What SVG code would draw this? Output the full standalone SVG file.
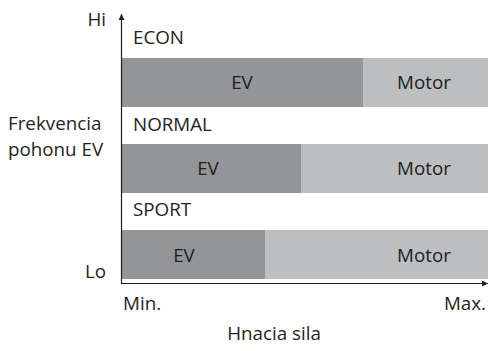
<svg xmlns="http://www.w3.org/2000/svg" width="489" height="351" viewBox="0 0 489 351">
<style>
text{font-family:"Open Sans","Noto Sans",sans-serif;font-size:18.8px;fill:#231f20}
.ev{fill:#939598}
.mo{fill:#bcbec0}
.mid{text-anchor:middle}
.end{text-anchor:end}
.ax{stroke:#231f20;stroke-width:1.2;fill:none}
</style>
<defs>
<marker id="ah" viewBox="0 0 10 10" refX="10" refY="5" markerWidth="8" markerHeight="6" markerUnits="userSpaceOnUse" orient="auto">
<path d="M0,0L10,5L0,10z" fill="#231f20"/>
</marker>
</defs>
<rect width="489" height="351" fill="#fff"/>
<g id="econ">
<text x="133" y="44">ECON</text>
<rect class="ev" x="122" y="58" width="241" height="49"/>
<rect class="mo" x="363" y="58" width="125" height="49"/>
<text class="mid" x="242" y="89">EV</text>
<text class="mid" x="424" y="89">Motor</text>
</g>
<g id="normal">
<text x="133" y="131">NORMAL</text>
<rect class="ev" x="122" y="144" width="179" height="49"/>
<rect class="mo" x="301" y="144" width="187" height="49"/>
<text class="mid" x="208" y="175">EV</text>
<text class="mid" x="424" y="175">Motor</text>
</g>
<g id="sport">
<text x="133" y="216">SPORT</text>
<rect class="ev" x="122" y="230" width="143" height="49"/>
<rect class="mo" x="265" y="230" width="223" height="49"/>
<text class="mid" x="184" y="262">EV</text>
<text class="mid" x="424" y="262">Motor</text>
</g>
<g id="axes">
<line class="ax" x1="121.5" y1="284" x2="121.5" y2="14" marker-end="url(#ah)"/>
<line class="ax" x1="121" y1="283.5" x2="488" y2="283.5" marker-end="url(#ah)"/>
</g>
<g id="labels">
<text class="end" x="106" y="26">Hi</text>
<text class="end" x="106" y="278">Lo</text>
<text x="8" y="130">Frekvencia</text>
<text x="8" y="156">pohonu EV</text>
<text x="123" y="310">Min.</text>
<text class="end" x="486" y="310">Max.</text>
<text class="mid" x="274" y="340">Hnacia sila</text>
</g>
</svg>
